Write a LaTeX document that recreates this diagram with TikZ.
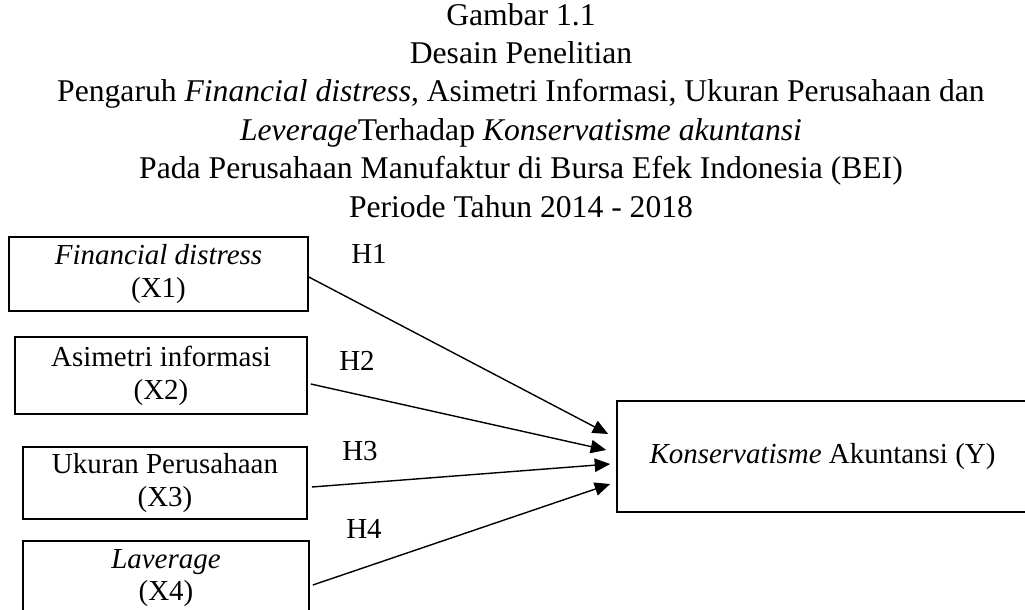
\documentclass[tikz,border=0pt]{standalone}
\usepackage{fontspec}
\setmainfont{Liberation Serif}
\usetikzlibrary{arrows.meta, calc}

\begin{document}
\begin{tikzpicture}[
      x=0.025cm, y=-0.025cm,
      >={Triangle[length=11pt, width=9.5pt]},
      ttl/.style={anchor=base, inner sep=0pt, font=\fontsize{22.5}{27}\selectfont},
      var/.style={draw, line width=1.1pt, inner sep=0pt, align=center,
                  font=\fontsize{20.6}{23.3}\selectfont},
      hyp/.style={inner sep=0pt, font=\fontsize{20.6}{23.3}\selectfont},
      arr/.style={->, line width=1pt}
    ]
    \useasboundingbox (0,0) rectangle (1025,610);

    % --- Title ---
    \node[ttl] (t1) at (521,26)  {Gambar 1.1};
    \node[ttl] (t2) at (521,64)  {Desain Penelitian};
    \node[ttl] (t3) at (521,102) {Pengaruh \textit{Financial distress}, Asimetri Informasi, Ukuran Perusahaan dan};
    \node[ttl] (t4) at (521,141) {\textit{Leverage}Terhadap \textit{Konservatisme akuntansi}};
    \node[ttl] (t5) at (521,179) {Pada Perusahaan Manufaktur di Bursa Efek Indonesia (BEI)};
    \node[ttl] (t6) at (521,217) {Periode Tahun 2014 - 2018};

    % --- Independent variables ---
    \node[var, minimum width=7.475cm, minimum height=1.85cm]  (x1) at (158.5,274) {\textit{Financial distress}\\(X1)};
    \node[var, minimum width=7.3cm,   minimum height=1.925cm] (x2) at (161,375.5) {Asimetri informasi\\(X2)};
    \node[var, minimum width=7.1cm,   minimum height=1.8cm]   (x3) at (165,483)   {Ukuran Perusahaan\\(X3)};
    \node[var, minimum width=7.15cm,  minimum height=1.85cm]  (x4) at (166,578)   {\textit{Laverage}\\(X4)};

    % --- Dependent variable ---
    \node[var, minimum width=10.275cm, minimum height=2.775cm] (kons) at (822.5,456.5)
      {\textit{Konservatisme} Akuntansi (Y)};

    % --- Hypotheses ---
    \node[hyp] (h1) at (369,254) {H1};
    \node[hyp] (h2) at (357,361) {H2};
    \node[hyp] (h3) at (360,451) {H3};
    \node[hyp] (h4) at (364,529) {H4};

    % --- Arrows ---
    \draw[arr] ($(x1.east)+(0,3)$)   -- ($(kons.west)+(-8,-22.5)$);
    \draw[arr] ($(x2.east)+(3,8.5)$) -- ($(kons.west)+(-10,-6.5)$);
    \draw[arr] ($(x3.east)+(4,4)$)   -- ($(kons.west)+(-6,7.5)$);
    \draw[arr] ($(x4.east)+(3,7)$)   -- ($(kons.west)+(-6,27.5)$);

  \end{tikzpicture}
\end{document}
